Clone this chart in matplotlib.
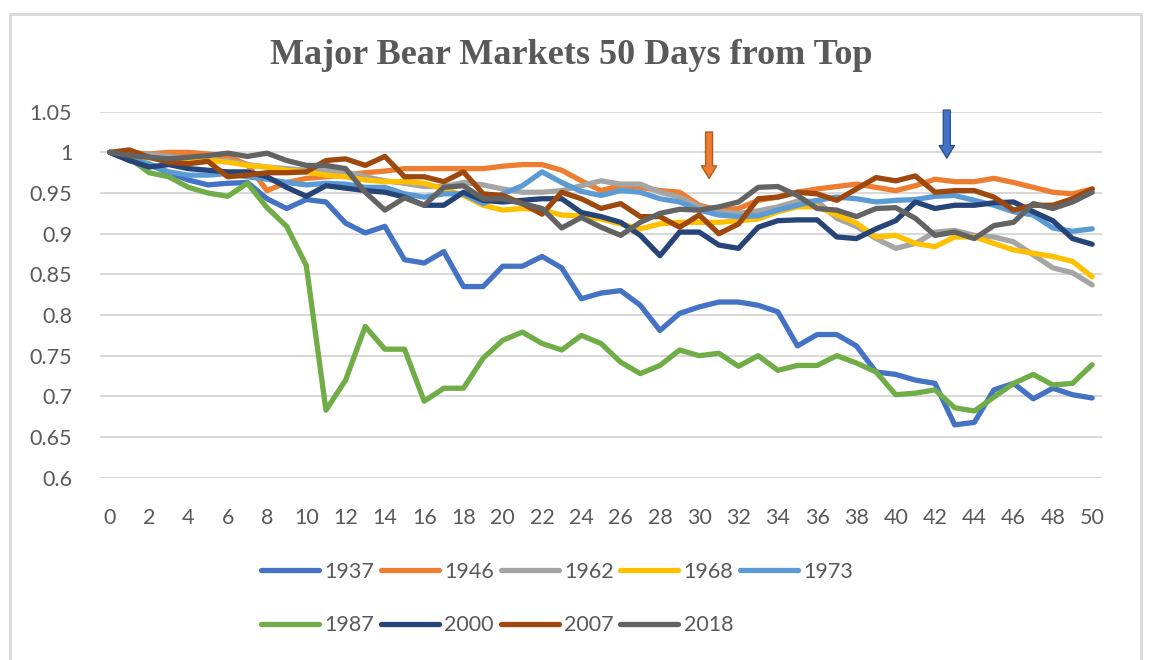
import matplotlib
matplotlib.use('Agg')
import matplotlib.pyplot as plt
from matplotlib.patches import Rectangle

days = list(range(51))

s1937 = [1.0, 0.99, 0.985, 0.975, 0.966, 0.96, 0.962, 0.963, 0.943, 0.931,
         0.942, 0.939, 0.913, 0.901, 0.909, 0.868, 0.864, 0.878, 0.835, 0.835,
         0.86, 0.86, 0.872, 0.858, 0.82, 0.827, 0.83, 0.812, 0.781, 0.802,
         0.81, 0.816, 0.816, 0.812, 0.804, 0.762, 0.776, 0.776, 0.762, 0.73,
         0.727, 0.72, 0.716, 0.665, 0.668, 0.708, 0.716, 0.697, 0.71, 0.702, 0.698]
s1946 = [1.0, 1.0, 0.998, 1.0, 1.0, 0.998, 0.995, 0.985, 0.953, 0.963,
         0.968, 0.97, 0.972, 0.975, 0.977, 0.98, 0.98, 0.98, 0.98, 0.98,
         0.983, 0.985, 0.985, 0.978, 0.965, 0.953, 0.959, 0.957, 0.953, 0.951,
         0.935, 0.929, 0.931, 0.941, 0.945, 0.951, 0.955, 0.958, 0.961, 0.957,
         0.953, 0.959, 0.967, 0.964, 0.964, 0.968, 0.963, 0.957, 0.951, 0.949, 0.955]
s1962 = [1.0, 0.998, 0.998, 0.995, 0.993, 0.99, 0.99, 0.985, 0.982, 0.98,
         0.978, 0.978, 0.976, 0.97, 0.965, 0.962, 0.958, 0.958, 0.963, 0.96,
         0.955, 0.951, 0.951, 0.953, 0.959, 0.965, 0.961, 0.961, 0.951, 0.945,
         0.933, 0.927, 0.925, 0.928, 0.933, 0.94, 0.94, 0.919, 0.909, 0.894,
         0.882, 0.888, 0.902, 0.904, 0.898, 0.896, 0.89, 0.874, 0.858, 0.852, 0.837]
s1968 = [1.0, 0.995, 0.993, 0.99, 0.99, 0.99, 0.988, 0.984, 0.982, 0.978,
         0.976, 0.972, 0.97, 0.966, 0.964, 0.964, 0.962, 0.955, 0.947, 0.935,
         0.929, 0.931, 0.929, 0.923, 0.922, 0.918, 0.912, 0.906, 0.912, 0.914,
         0.914, 0.914, 0.916, 0.918, 0.927, 0.933, 0.933, 0.923, 0.913, 0.896,
         0.898, 0.888, 0.884, 0.896, 0.896, 0.888, 0.88, 0.876, 0.872, 0.866, 0.847]
s1973 = [1.0, 0.992, 0.986, 0.976, 0.972, 0.972, 0.974, 0.97, 0.967, 0.963,
         0.96, 0.962, 0.961, 0.957, 0.957, 0.949, 0.945, 0.949, 0.949, 0.937,
         0.949, 0.959, 0.976, 0.963, 0.952, 0.947, 0.953, 0.951, 0.943, 0.939,
         0.929, 0.923, 0.921, 0.922, 0.929, 0.935, 0.941, 0.945, 0.943, 0.939,
         0.941, 0.942, 0.946, 0.947, 0.941, 0.935, 0.927, 0.923, 0.907, 0.903, 0.906]
s1987 = [1.0, 0.993, 0.975, 0.97, 0.957, 0.95, 0.946, 0.962, 0.932, 0.909,
         0.861, 0.683, 0.72, 0.786, 0.758, 0.758, 0.694, 0.71, 0.71, 0.747,
         0.769, 0.779, 0.765, 0.757, 0.775, 0.765, 0.742, 0.728, 0.738, 0.757,
         0.75, 0.753, 0.737, 0.75, 0.732, 0.738, 0.738, 0.75, 0.741, 0.73,
         0.702, 0.704, 0.708, 0.686, 0.682, 0.699, 0.716, 0.727, 0.714, 0.716, 0.739]
s2000 = [1.0, 0.99, 0.982, 0.985, 0.98, 0.978, 0.976, 0.976, 0.97, 0.957,
         0.946, 0.959, 0.956, 0.953, 0.951, 0.945, 0.935, 0.935, 0.951, 0.941,
         0.939, 0.941, 0.943, 0.943, 0.926, 0.921, 0.914, 0.898, 0.873, 0.902,
         0.902, 0.886, 0.882, 0.908, 0.916, 0.917, 0.917, 0.896, 0.894, 0.906,
         0.916, 0.939, 0.931, 0.935, 0.935, 0.938, 0.939, 0.927, 0.916, 0.894, 0.887]
s2007 = [1.0, 1.003, 0.994, 0.988, 0.986, 0.989, 0.97, 0.972, 0.975, 0.975,
         0.976, 0.99, 0.992, 0.984, 0.995, 0.97, 0.97, 0.964, 0.976, 0.949,
         0.947, 0.937, 0.924, 0.951, 0.943, 0.931, 0.937, 0.921, 0.921, 0.908,
         0.923, 0.9, 0.912, 0.943, 0.945, 0.951, 0.949, 0.941, 0.955, 0.969,
         0.965, 0.971, 0.951, 0.953, 0.953, 0.945, 0.929, 0.935, 0.935, 0.943, 0.955]
s2018 = [1.0, 0.996, 0.994, 0.992, 0.994, 0.996, 0.999, 0.995, 0.999, 0.99,
         0.984, 0.984, 0.98, 0.951, 0.929, 0.944, 0.935, 0.957, 0.959, 0.943,
         0.943, 0.937, 0.931, 0.907, 0.92, 0.908, 0.898, 0.914, 0.925, 0.93,
         0.929, 0.933, 0.939, 0.957, 0.958, 0.947, 0.931, 0.929, 0.921, 0.931,
         0.932, 0.919, 0.898, 0.902, 0.894, 0.91, 0.914, 0.937, 0.931, 0.939, 0.951]

labels = ['1937', '1946', '1962', '1968', '1973', '1987', '2000', '2007', '2018']
series = [s1937, s1946, s1962, s1968, s1973, s1987, s2000, s2007, s2018]
colors = ['#4472C4', '#ED7D31', '#A5A5A5', '#FFC000', '#5B9BD5',
          '#70AD47', '#264478', '#9E480E', '#636363']

yticks = [0.6, 0.65, 0.7, 0.75, 0.8, 0.85, 0.9, 0.95, 1.0, 1.05]
ytick_labels = ['0.6', '0.65', '0.7', '0.75', '0.8', '0.85', '0.9', '0.95', '1', '1.05']

# arrows marking the two bear markets (day, top, tip)
arrow_orange = (30.5, 1.025, 0.968)
arrow_blue = (42.6, 1.052, 0.993)

text_col = '#595959'
plt.rcParams['font.family'] = ['Lato', 'DejaVu Sans']

fig = plt.figure(figsize=(11.5, 6.6), dpi=100)
ax = fig.add_axes([100/1150, 1 - 477.7/660, 1002/1150, 366/660])

lines = []
for s, lab, c in zip(series, labels, colors):
    ln, = ax.plot(days, s, color=c, lw=3.8, label=lab,
                  solid_capstyle='round', solid_joinstyle='round')
    lines.append(ln)

ax.set_xlim(-0.5, 50.5)
ax.set_ylim(0.6, 1.05)
ax.set_xticks(days[::2])
ax.set_yticks(yticks)
ax.set_yticklabels(ytick_labels)
ax.grid(axis='y', color='#D9D9D9', lw=1.5)
ax.set_axisbelow(True)
for sp in ax.spines.values():
    sp.set_visible(False)
ax.tick_params(length=0, labelsize=15.5, colors=text_col)
ax.tick_params(axis='x', pad=22)
ax.tick_params(axis='y', pad=20)

for (d, top, tip), fc, ec in [(arrow_orange, '#ED7D31', '#AE5A21'),
                               (arrow_blue, '#4472C4', '#2F528F')]:
    ax.annotate('', xy=(d, tip), xytext=(d, top),
                arrowprops=dict(arrowstyle='simple,head_width=1.1,head_length=0.9,tail_width=0.5',
                                fc=fc, ec=ec, lw=1, shrinkA=0, shrinkB=0),
                annotation_clip=False)

fig.text(571/1150, 1 - 55/660, 'Major Bear Markets 50 Days from Top',
         ha='center', va='center', fontsize=26, fontweight='bold',
         family='Liberation Serif', color=text_col)

# legend is filled row by row in the reference (5 columns, 2 rows)
order = [0, 5, 1, 6, 2, 7, 3, 8, 4]
leg = fig.legend([lines[i] for i in order], [labels[i] for i in order],
                 loc='upper left', bbox_to_anchor=(261/1150, 1 - 562/660),
                 ncol=5, frameon=False, fontsize=15.5, handlelength=2.7,
                 handletextpad=0.25, columnspacing=0.3, labelspacing=1.55,
                 borderpad=0, borderaxespad=0)
for t in leg.get_texts():
    t.set_color(text_col)
for h in leg.get_lines():
    h.set_linewidth(3.8)
    h.set_solid_capstyle('round')

fig.patches.append(Rectangle((10/1150, -0.05), 1131/1150, 1.05 - 14/660,
                             transform=fig.transFigure, fill=False,
                             ec='#D9D9D9', lw=2))

fig.savefig('out.png', dpi=100)
